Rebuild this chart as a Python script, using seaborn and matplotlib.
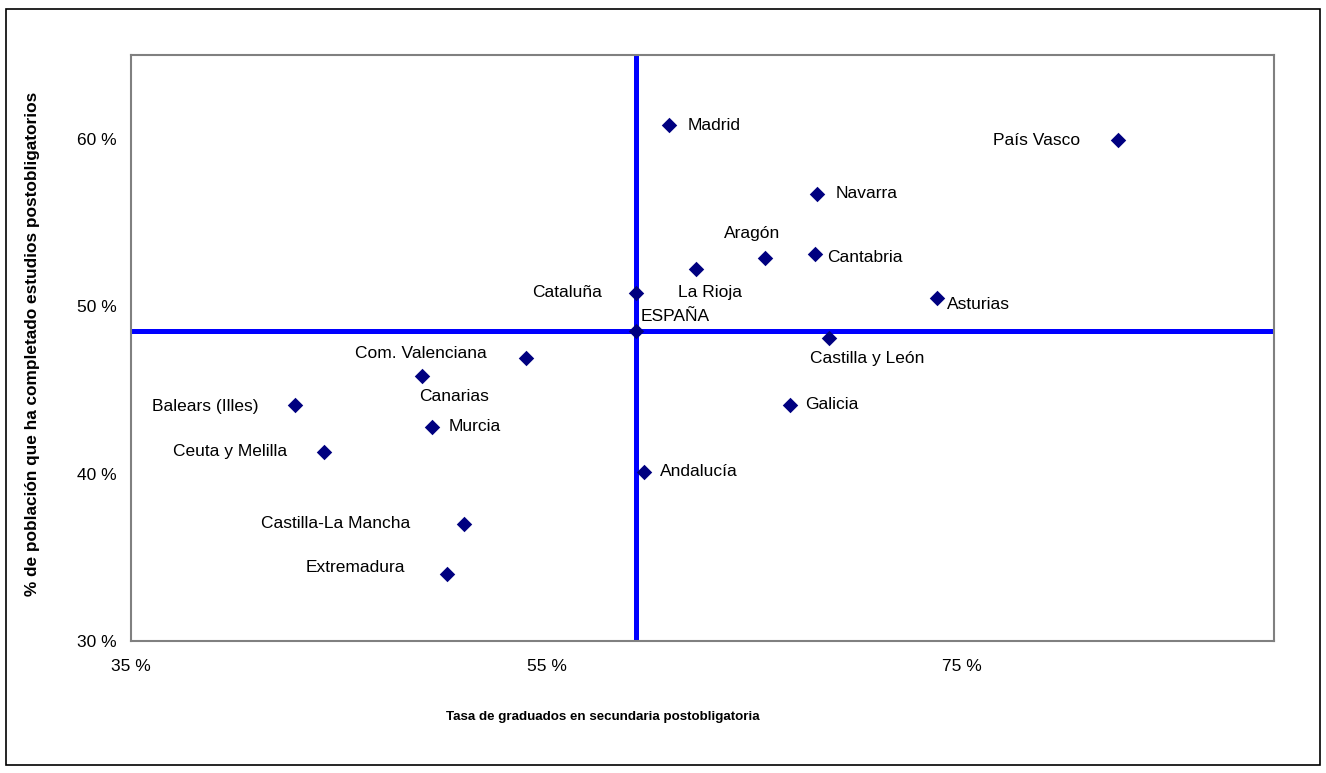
import matplotlib
matplotlib.use("Agg")
import matplotlib.pyplot as plt
import seaborn as sns
import pandas as pd
from matplotlib.patches import Rectangle

# values (in %)
regions = [
    "Madrid", "País Vasco", "Navarra", "Aragón", "Cantabria", "La Rioja",
    "Cataluña", "Asturias", "ESPAÑA", "Castilla y León", "Com. Valenciana",
    "Canarias", "Balears (Illes)", "Galicia", "Murcia", "Ceuta y Melilla",
    "Andalucía", "Castilla-La Mancha", "Extremadura",
]
grad_rate = [
    60.9, 82.5, 68.0, 65.5, 67.9, 62.2,
    59.3, 73.8, 59.3, 68.6, 54.0,
    49.0, 42.9, 66.7, 49.5, 44.3,
    59.7, 51.0, 50.2,
]
post_pct = [
    60.8, 59.9, 56.7, 52.9, 53.1, 52.2,
    50.8, 50.5, 48.5, 48.1, 46.9,
    45.8, 44.1, 44.1, 42.8, 41.3,
    40.1, 37.0, 34.0,
]
x_ticks = [35, 55, 75]
y_ticks = [30, 40, 50, 60]

# label placement (offset in pixels from the marker, horizontal alignment)
label_pos = {
    "Madrid": (18, 0, "left"),
    "País Vasco": (-38, 0, "right"),
    "Navarra": (19, 0, "left"),
    "Aragón": (-13, 24, "center"),
    "Cantabria": (12, -3, "left"),
    "La Rioja": (14, -23, "center"),
    "Cataluña": (-34, 0, "right"),
    "Asturias": (10, -7, "left"),
    "ESPAÑA": (5, 15, "left"),
    "Castilla y León": (-19, -21, "left"),
    "Com. Valenciana": (-39, 5, "right"),
    "Canarias": (32, -20, "center"),
    "Balears (Illes)": (-37, -2, "right"),
    "Galicia": (15, 0, "left"),
    "Murcia": (16, 0, "left"),
    "Ceuta y Melilla": (-37, 0, "right"),
    "Andalucía": (16, 0, "left"),
    "Castilla-La Mancha": (-53, 0, "right"),
    "Extremadura": (-42, 7, "right"),
}

df = pd.DataFrame({"region": regions, "grad": grad_rate, "post": post_pct})

sns.set_style("white")
plt.rcParams["font.family"] = ["Liberation Sans", "DejaVu Sans"]
plt.rcParams["text.color"] = "black"
plt.rcParams["axes.labelcolor"] = "black"
plt.rcParams["xtick.color"] = "black"
plt.rcParams["ytick.color"] = "black"

fig = plt.figure(figsize=(13.26, 7.73), dpi=100)
ax = fig.add_axes([0.0988, 0.1708, 0.862, 0.758])

# reference lines through the national value
esp = df[df["region"] == "ESPAÑA"].iloc[0]
ax.axvline(esp["grad"], color="#0000FF", lw=3.6, zorder=2)
ax.axhline(esp["post"], color="#0000FF", lw=3.6, zorder=2)

sns.scatterplot(
    data=df, x="grad", y="post", marker="D", color="#000080",
    s=62, linewidth=0, ax=ax, zorder=3,
)

for _, row in df.iterrows():
    dx, dy, ha = label_pos[row["region"]]
    ax.annotate(
        row["region"], (row["grad"], row["post"]),
        xytext=(dx, dy), textcoords="offset pixels",
        ha=ha, va="center", fontsize=12.5, color="black",
    )

ax.set_xlim(35, 90)
ax.set_ylim(30, 65)
ax.set_xticks(x_ticks)
ax.set_yticks(y_ticks)
ax.set_xticklabels([f"{v} %" for v in x_ticks], fontsize=12.5)
ax.set_yticklabels([f"{v} %" for v in y_ticks], fontsize=12.5)
ax.tick_params(axis="x", length=0, pad=13, labelcolor="black")
ax.tick_params(axis="y", length=0, pad=10, labelcolor="black")

for sp in ax.spines.values():
    sp.set_color("#808080")
    sp.set_linewidth(1.5)

ax.set_xlabel("Tasa de graduados en secundaria postobligatoria",
              fontsize=9.6, fontweight="bold", color="black")
ax.set_ylabel("% de población que ha completado estudios postobligatorios",
              fontsize=12.4, fontweight="bold", color="black")
ax.xaxis.set_label_coords(0.413, -0.13)
ax.yaxis.set_label_coords(-0.086, 0.507)
ax.xaxis.label.set_va("center")
ax.yaxis.label.set_va("center")

# outer chart border
fig.patches.append(Rectangle((6 / 1326, 8 / 773), 1314 / 1326, 756 / 773,
                             transform=fig.transFigure, fill=False,
                             edgecolor="black", linewidth=1.2))

fig.savefig("out.png", dpi=100)
